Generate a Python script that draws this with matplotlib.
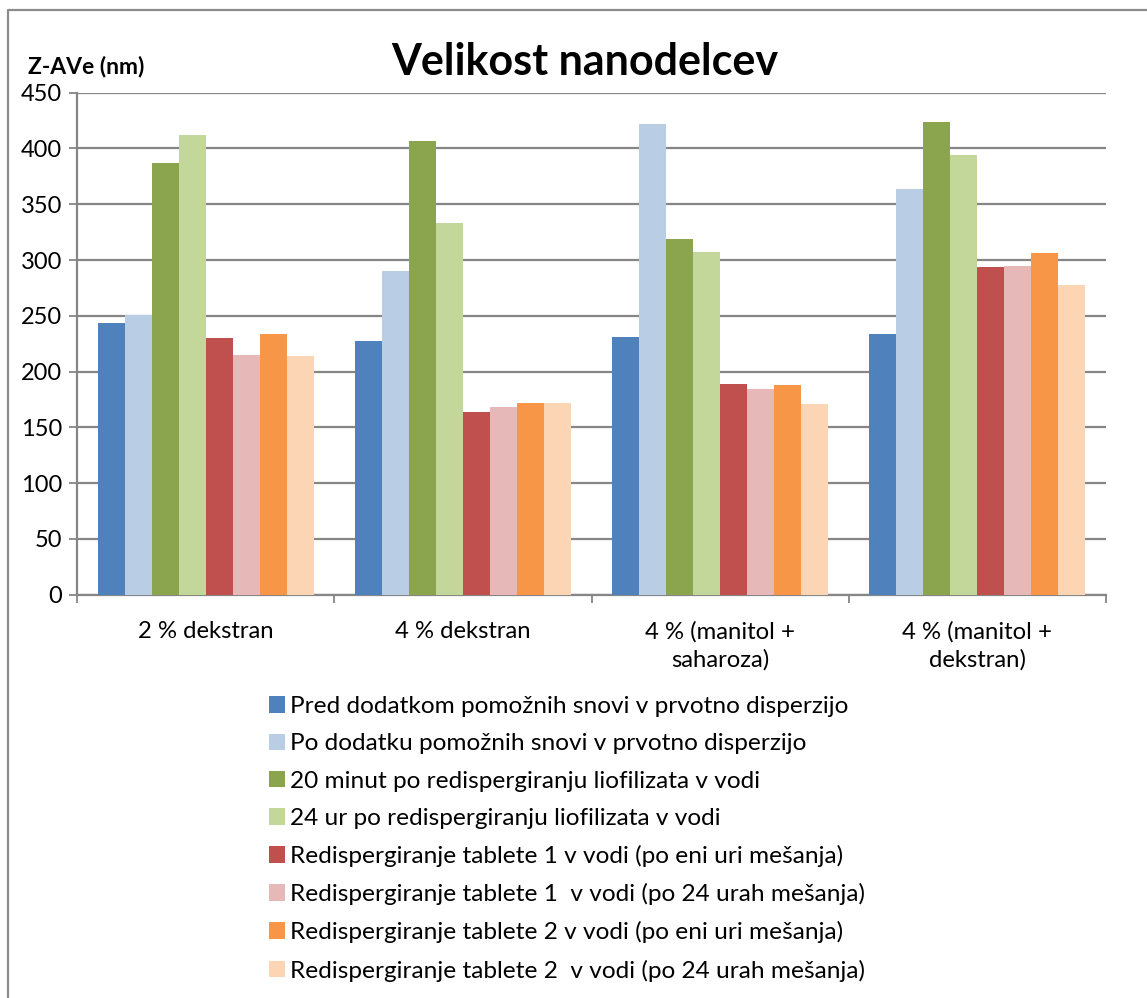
import numpy as np
import matplotlib
matplotlib.use("Agg")
import matplotlib.pyplot as plt
from matplotlib.lines import Line2D

plt.rcParams['font.family'] = ['Lato', 'DejaVu Sans']

# Data
categories = ['2 % dekstran', '4 % dekstran', '4 % (manitol +\nsaharoza)', '4 % (manitol +\ndekstran)']
series_labels = [
    'Pred dodatkom pomožnih snovi v prvotno disperzijo',
    'Po dodatku pomožnih snovi v prvotno disperzijo',
    '20 minut po redispergiranju liofilizata v vodi',
    '24 ur po redispergiranju liofilizata v vodi',
    'Redispergiranje tablete 1 v vodi (po eni uri mešanja)',
    'Redispergiranje tablete 1  v vodi (po 24 urah mešanja)',
    'Redispergiranje tablete 2 v vodi (po eni uri mešanja)',
    'Redispergiranje tablete 2  v vodi (po 24 urah mešanja)',
]
pred_dodatkom = [244, 227, 231, 234]
po_dodatku = [251, 290, 422, 364]
min20 = [387, 407, 319, 424]
ur24 = [412, 333, 307, 394]
tab1_1h = [230, 164, 189, 294]
tab1_24h = [215, 168, 184, 295]
tab2_1h = [234, 172, 188, 306]
tab2_24h = [214, 172, 171, 278]
values = [pred_dodatkom, po_dodatku, min20, ur24, tab1_1h, tab1_24h, tab2_1h, tab2_24h]
colors = ['#4F81BD', '#B9CDE5', '#8BA54F', '#C4D79B', '#C0504D', '#E6B9B8', '#F79646', '#FCD5B5']

fig = plt.figure(figsize=(11.47, 9.98), dpi=100)
ax = fig.add_axes([0.0674, 0.4041, 0.8966, 0.5030])

x = np.arange(len(categories))
w = 1 / 9.5
for i, (vals, col, lab) in enumerate(zip(values, colors, series_labels)):
    ax.bar(x + (i - 3.5) * w, vals, width=w, color=col, label=lab, zorder=3)

grid_col = '#868686'
ax.set_xlim(-0.5, 3.5)
ax.set_ylim(0, 450)
ax.set_yticks(range(0, 451, 50))
ax.yaxis.grid(True, color=grid_col, linewidth=1.6, zorder=0)
ax.set_xticks(x)
ax.set_xticklabels(categories, fontsize=17.2, linespacing=1.35)
ax.set_xticks(np.arange(-0.5, 3.6, 1), minor=True)
ax.tick_params(axis='x', which='major', length=0, pad=19)
ax.tick_params(axis='x', which='minor', length=6, width=1.3, color=grid_col)
ax.tick_params(axis='y', length=6, width=1.3, color=grid_col, labelsize=17, pad=5)
for s in ['top', 'right']:
    ax.spines[s].set_visible(False)
for s in ['left', 'bottom']:
    ax.spines[s].set_color(grid_col)
    ax.spines[s].set_linewidth(1.6)

fig.text(0.510, 0.938, 'Velikost nanodelcev', fontsize=31, fontweight='bold', ha='center', va='center')
fig.text(0.024, 0.933, 'Z-AVe (nm)', fontsize=16.5, fontweight='bold', ha='left', va='center')

ax.legend(loc='upper left', bbox_to_anchor=(0.2235, 0.3145), bbox_transform=fig.transFigure,
          frameon=False, fontsize=17.6, handlelength=0.68, handleheight=0.68,
          handletextpad=0.2, labelspacing=0.66, borderpad=0)

# outer chart frame (left and top edges visible)
fig.add_artist(Line2D([8 / 1147, 8 / 1147, 1.0], [0.0, 1 - 10 / 998, 1 - 10 / 998],
                      transform=fig.transFigure, color='#8c8c8c', linewidth=1.6))

fig.savefig('out.png', dpi=100)
